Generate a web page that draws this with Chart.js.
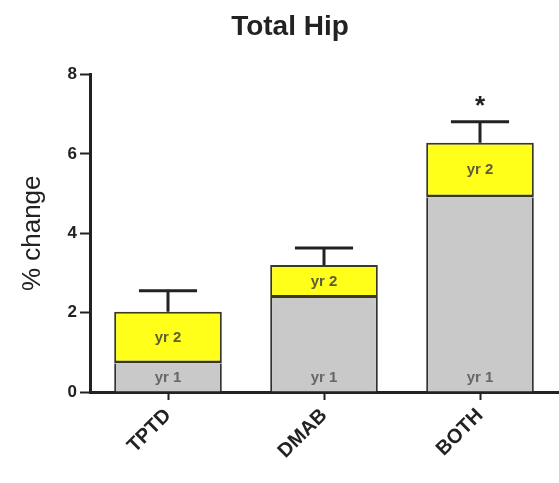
<!DOCTYPE html>
<html>
<head>
<meta charset="utf-8">
<title>Total Hip</title>
<script src="https://cdn.jsdelivr.net/npm/chart.js@4.4.1/dist/chart.umd.min.js"></script>
<style>
  html, body { margin: 0; padding: 0; background: #ffffff; }
  #wrap { width: 559px; height: 483px; }
</style>
</head>
<body>
<div id="wrap"><canvas id="c" width="559" height="483"></canvas></div>
<script>
// Percent change in total hip BMD, split by study year
const categories = ['TPTD', 'DMAB', 'BOTH'];
const year1Gain = [0.72, 2.37, 4.90];   // yr 1 segment
const year2Gain = [1.30, 0.83, 1.38];   // additional gain in yr 2 (stacked on yr 1)
const errorSem = [0.53, 0.43, 0.53];    // error bar above the 2-year total
const significance = ['', '', '*'];
const segmentLabels = ['yr 1', 'yr 2'];
const yTicks = [0, 2, 4, 6, 8];

const FONT = '"Liberation Sans", Arial, Helvetica, sans-serif';
const INK = '#222222';

// Error bars, significance marks and in-bar segment labels
const overlayPlugin = {
  id: 'overlay',
  afterDatasetsDraw(chart) {
    const ctx = chart.ctx;
    const y = chart.scales.y;
    const m1 = chart.getDatasetMeta(0);
    const m2 = chart.getDatasetMeta(1);
    ctx.save();
    categories.forEach((cat, i) => {
      const bar1 = m1.data[i];
      const bar2 = m2.data[i];
      const total = year1Gain[i] + year2Gain[i];
      const xc = bar2.x;
      const yTop = y.getPixelForValue(total);
      const yErr = y.getPixelForValue(total + errorSem[i]);
      const capHalf = bar2.width * 0.27;

      // error bar stem and cap
      ctx.strokeStyle = INK;
      ctx.lineWidth = 3;
      ctx.lineCap = 'butt';
      ctx.beginPath();
      ctx.moveTo(xc, yTop);
      ctx.lineTo(xc, yErr);
      ctx.moveTo(xc - capHalf, yErr);
      ctx.lineTo(xc + capHalf, yErr);
      ctx.stroke();

      // significance mark
      if (significance[i]) {
        ctx.fillStyle = INK;
        ctx.font = 'bold 26px ' + FONT;
        ctx.textAlign = 'center';
        ctx.textBaseline = 'middle';
        ctx.fillText(significance[i], xc, yErr - 15);
      }

      // segment labels
      ctx.font = 'bold 15px ' + FONT;
      ctx.textAlign = 'center';
      ctx.textBaseline = 'middle';
      ctx.fillStyle = '#5c5c3a';
      const y2mid = (y.getPixelForValue(year1Gain[i]) + yTop) / 2;
      ctx.fillText(segmentLabels[1], xc, y2mid);
      ctx.fillStyle = '#666666';
      ctx.fillText(segmentLabels[0], bar1.x, y.getPixelForValue(0) - 14);
    });
    ctx.restore();
  }
};

new Chart(document.getElementById('c'), {
  type: 'bar',
  data: {
    labels: categories,
    datasets: [
      {
        label: segmentLabels[0],
        data: year1Gain,
        backgroundColor: '#c9c9c9',
        borderColor: '#333333',
        borderWidth: { top: 0, left: 2, right: 2, bottom: 0 },
        borderSkipped: false
      },
      {
        label: segmentLabels[1],
        data: year2Gain,
        backgroundColor: '#ffff1a',
        borderColor: '#3a3a22',
        borderWidth: { top: 2, left: 2, right: 2, bottom: 3 },
        borderSkipped: false
      }
    ]
  },
  options: {
    responsive: false,
    animation: false,
    events: [],
    layout: { padding: { left: 22, right: 1, top: 0, bottom: 0 } },
    datasets: {
      bar: { categoryPercentage: 1.0, barPercentage: 0.69 }
    },
    plugins: {
      legend: { display: false },
      tooltip: { enabled: false },
      title: {
        display: true,
        text: 'Total Hip',
        color: INK,
        font: { family: FONT, size: 28, weight: 'bold' },
        padding: { top: 10, bottom: 31 }
      }
    },
    scales: {
      x: {
        stacked: true,
        grid: {
          offset: false,
          drawOnChartArea: false,
          drawTicks: true,
          tickLength: 8,
          tickWidth: 2,
          color: INK
        },
        border: { display: true, color: INK, width: 3 },
        ticks: {
          color: INK,
          font: { family: FONT, size: 20, weight: 'bold' },
          maxRotation: 45,
          minRotation: 45,
          padding: 4
        },
        afterFit(scale) { scale.height = 91; }
      },
      y: {
        stacked: true,
        min: 0,
        max: 8,
        afterBuildTicks(scale) { scale.ticks = yTicks.map(v => ({ value: v })); },
        grid: {
          drawOnChartArea: false,
          drawTicks: true,
          tickLength: 10,
          tickWidth: 2,
          color: INK
        },
        border: { display: true, color: INK, width: 3 },
        ticks: {
          color: INK,
          font: { family: FONT, size: 17, weight: 'bold' },
          padding: 3
        },
        title: {
          display: true,
          text: '% change',
          color: INK,
          font: { family: FONT, size: 26 },
          padding: { top: -5, bottom: 0 }
        },
        afterFit(scale) { scale.width = 68; }
      }
    }
  },
  plugins: [overlayPlugin]
});
</script>
</body>
</html>
